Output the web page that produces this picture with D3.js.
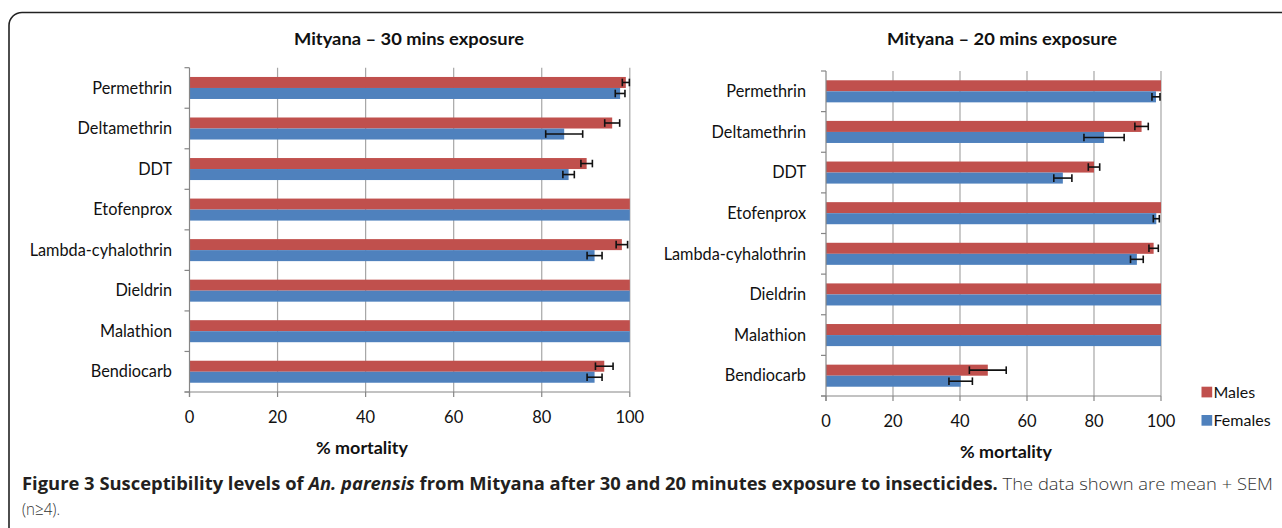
<!DOCTYPE html>
<html>
<head>
<meta charset="utf-8">
<script src="https://cdn.jsdelivr.net/npm/d3@7/dist/d3.min.js"></script>
<style>
  html, body { margin: 0; padding: 0; background: #fff; }
  svg { display: block; }
</style>
</head>
<body>
<svg id="chart" width="1282" height="528"></svg>
<script>
// ---------- data ----------
const categories = ["Permethrin", "Deltamethrin", "DDT", "Etofenprox", "Lambda-cyhalothrin", "Dieldrin", "Malathion", "Bendiocarb"];
const seriesNames = ["Males", "Females"];
const seriesColors = ["#C0504D", "#4F81BD"];

const males30     = [99.1, 96.0, 90.2, 100, 98.2, 100, 100, 94.2];
const males30Err  = [0.8, 1.7, 1.3, 0, 1.3, 0, 0, 2.0];
const females30    = [97.8, 85.1, 86.1, 100, 92.0, 100, 100, 92.0];
const females30Err = [1.1, 4.2, 1.3, 0, 1.7, 0, 0, 1.7];

const males20     = [100, 94.2, 80.0, 100, 97.8, 100, 100, 48.3];
const males20Err  = [0, 2.0, 1.7, 0, 1.4, 0, 0, 5.5];
const females20    = [98.5, 83.0, 70.7, 98.6, 92.8, 100, 100, 40.2];
const females20Err = [1.2, 6.0, 2.7, 0.9, 1.9, 0, 0, 3.5];

const xTicks = [0, 20, 40, 60, 80, 100];
const titles = ["Mityana \u2013 30 mins exposure", "Mityana \u2013 20 mins exposure"];
const xAxisTitle = "% mortality";

// ---------- drawing ----------
const svg = d3.select("#chart");
const FONT = "Lato, 'Open Sans', sans-serif";

// outer frame
svg.append("rect")
  .attr("x", 9).attr("y", 12.5)
  .attr("width", 1300).attr("height", 540)
  .attr("rx", 13).attr("ry", 13)
  .attr("fill", "none").attr("stroke", "#222").attr("stroke-width", 1.6);

function fitWidth(sel, w) {
  sel.attr("textLength", w).attr("lengthAdjust", "spacingAndGlyphs");
}

function drawPanel(cfg) {
  const g = svg.append("g");
  const x = d3.scaleLinear().domain([0, 100]).range([cfg.x0, cfg.x1]);
  const y = d3.scaleBand().domain(categories).range([cfg.y0, cfg.y1])
    .paddingInner(0.457).paddingOuter(0.2285);
  const ys = d3.scaleBand().domain(seriesNames).range([0, y.bandwidth()]);

  // gridlines
  g.append("g").selectAll("line").data(xTicks.filter(t => t > 0)).join("line")
    .attr("x1", d => x(d)).attr("x2", d => x(d))
    .attr("y1", cfg.y0).attr("y2", cfg.y1)
    .attr("stroke", "#a6a6a6").attr("stroke-width", 1.2);

  // bars
  const rows = [];
  categories.forEach((c, i) => {
    rows.push({ cat: c, s: "Males", v: cfg.m[i], e: cfg.me[i], col: seriesColors[0] });
    rows.push({ cat: c, s: "Females", v: cfg.f[i], e: cfg.fe[i], col: seriesColors[1] });
  });
  g.append("g").selectAll("rect").data(rows).join("rect")
    .attr("x", x(0))
    .attr("y", d => y(d.cat) + ys(d.s))
    .attr("width", d => x(d.v) - x(0))
    .attr("height", ys.bandwidth())
    .attr("fill", d => d.col);

  // error bars
  const eb = g.append("g").attr("stroke", "#111").attr("stroke-width", 1.6);
  rows.filter(d => d.e > 0).forEach(d => {
    const cy = y(d.cat) + ys(d.s) + ys.bandwidth() / 2;
    const xa = x(d.v - d.e), xb = x(d.v + d.e);
    eb.append("line").attr("x1", xa).attr("x2", xb).attr("y1", cy).attr("y2", cy);
    eb.append("line").attr("x1", xa).attr("x2", xa).attr("y1", cy - 3.8).attr("y2", cy + 3.8);
    eb.append("line").attr("x1", xb).attr("x2", xb).attr("y1", cy - 3.8).attr("y2", cy + 3.8);
  });

  // y axis line + category boundary ticks
  const ax = g.append("g").attr("stroke", "#868686").attr("stroke-width", 1.2);
  ax.append("line").attr("x1", x(0)).attr("x2", x(0)).attr("y1", cfg.y0).attr("y2", cfg.y1 + 5);
  d3.range(categories.length + 1).forEach(i => {
    const yy = cfg.y0 + i * y.step();
    ax.append("line").attr("x1", x(0) - 5).attr("x2", x(0)).attr("y1", yy).attr("y2", yy);
  });
  // x axis line + ticks
  ax.append("line").attr("x1", x(0) - 5).attr("x2", x(100)).attr("y1", cfg.y1).attr("y2", cfg.y1);
  xTicks.forEach(t => {
    ax.append("line").attr("x1", x(t)).attr("x2", x(t)).attr("y1", cfg.y1).attr("y2", cfg.y1 + 5);
  });

  // category labels
  g.append("g").selectAll("text").data(categories).join("text")
    .attr("x", cfg.labelX)
    .attr("y", d => y(d) + y.bandwidth() / 2)
    .attr("dy", "0.35em")
    .attr("text-anchor", "end")
    .attr("font-family", FONT).attr("font-size", 16.3).attr("fill", "#111")
    .text(d => d);

  // tick labels
  g.append("g").selectAll("text").data(xTicks).join("text")
    .attr("x", d => x(d)).attr("y", cfg.y1 + 25)
    .attr("dy", "0.35em")
    .attr("text-anchor", "middle")
    .attr("font-family", FONT).attr("font-size", 16.5).attr("fill", "#111")
    .text(d => d);

  // axis title
  g.append("text")
    .attr("x", cfg.axisTitleX).attr("y", cfg.y1 + 56).attr("dy", "0.35em")
    .attr("text-anchor", "middle")
    .attr("font-family", FONT).attr("font-size", 17.5).attr("font-weight", "bold").attr("fill", "#111")
    .text(xAxisTitle)
    .call(fitWidth, 92);

  // chart title
  g.append("text")
    .attr("x", cfg.titleX).attr("y", 39).attr("dy", "0.35em")
    .attr("text-anchor", "middle")
    .attr("font-family", FONT).attr("font-size", 17.5).attr("font-weight", "bold").attr("fill", "#111")
    .text(cfg.title)
    .call(fitWidth, 230);
}

drawPanel({ x0: 189.5, x1: 629.8, y0: 67.7, y1: 392, labelX: 172,
  m: males30, me: males30Err, f: females30, fe: females30Err,
  title: titles[0], titleX: 409, axisTitleX: 362 });
drawPanel({ x0: 826, x1: 1161, y0: 71, y1: 396, labelX: 806,
  m: males20, me: males20Err, f: females20, fe: females20Err,
  title: titles[1], titleX: 1002, axisTitleX: 1006 });

// legend
const leg = svg.append("g");
seriesNames.forEach((s, i) => {
  const ly = 392 + i * 28.3;
  leg.append("rect").attr("x", 1201.5).attr("y", ly - 5.3).attr("width", 10.7).attr("height", 10.7)
    .attr("fill", seriesColors[i]);
  leg.append("text").attr("x", 1213.5).attr("y", ly).attr("dy", "0.35em")
    .attr("font-family", FONT).attr("font-size", 16).attr("fill", "#111")
    .text(s);
});

// caption
const cap = svg.append("text")
  .attr("x", 22).attr("y", 490)
  .attr("font-family", "'Open Sans', sans-serif").attr("font-size", 17).attr("fill", "#231f20");
cap.append("tspan").attr("font-weight", "bold").text("Figure 3 Susceptibility levels of ");
cap.append("tspan").attr("font-weight", "bold").attr("font-style", "italic").text("An. parensis");
cap.append("tspan").attr("font-weight", "bold").text(" from Mityana after 30 and 20 minutes exposure to insecticides.");
cap.append("tspan").attr("font-weight", "300").attr("fill", "#333").text(" The data shown are mean + SEM");
cap.call(fitWidth, 1251);

svg.append("text")
  .attr("x", 22).attr("y", 515)
  .attr("font-family", "'Open Sans', sans-serif").attr("font-size", 17).attr("font-weight", "300").attr("fill", "#333")
  .text("(n\u22654).")
  .call(fitWidth, 38);
</script>
</body>
</html>
